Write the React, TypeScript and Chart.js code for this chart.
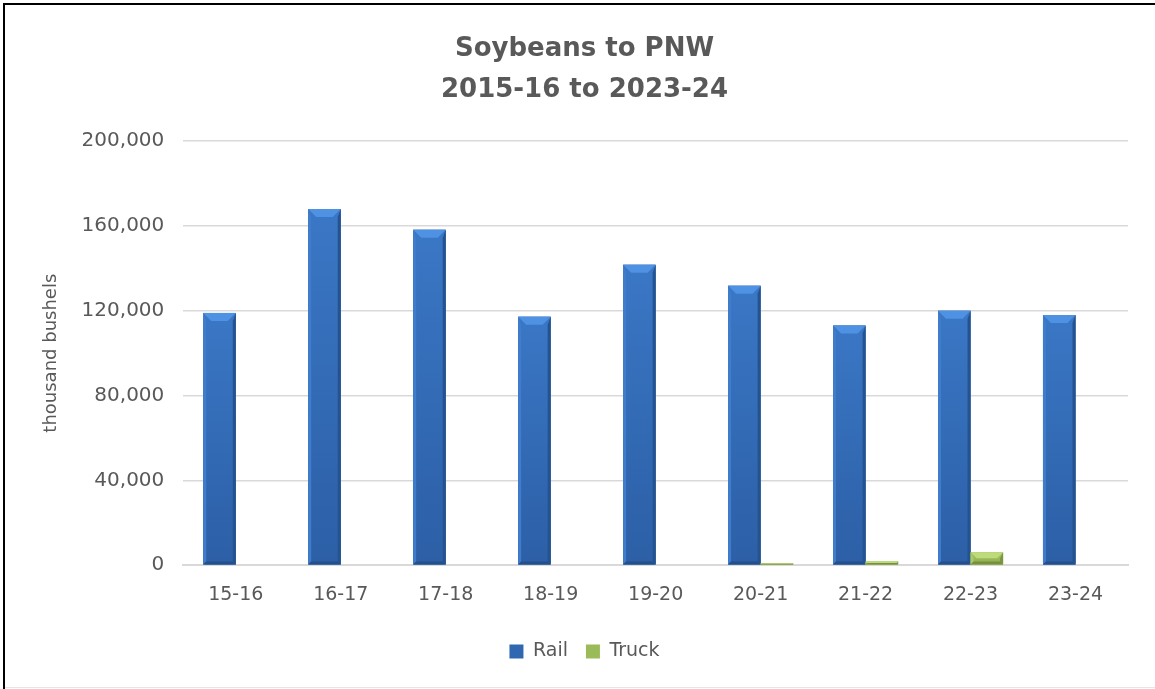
import React, { useEffect, useRef } from "react";
import { Chart, registerables } from "chart.js";

Chart.register(...registerables);

const categories = ["15-16", "16-17", "17-18", "18-19", "19-20", "20-21", "21-22", "22-23", "23-24"];
const railValues = [119000, 168000, 158200, 117200, 141700, 131800, 113000, 120000, 118000];
const truckValues = [0, 0, 0, 0, 0, 900, 1700, 6100, 0];
const titleLines = ["Soybeans to PNW", "2015-16 to 2023-24"];
const yAxisTitle = "thousand bushels";

const FONT = "'DejaVu Sans', sans-serif";
const TEXT = "#595959";

const palettes: Record<number, { bodyTop: string; bodyBottom: string; top: string; left: string; right: string; bottom: string }> = {
  0: { bodyTop: "#3a77c5", bodyBottom: "#2c5fa6", top: "#4f91e2", left: "#3f7dcc", right: "#25538f", bottom: "#23508c" },
  1: { bodyTop: "#a6c763", bodyBottom: "#8eab4f", top: "#bedb7c", left: "#abc96b", right: "#7a9640", bottom: "#76913e" },
};

const bevelPlugin = {
  id: "bevel",
  afterDatasetsDraw(chart: any) {
    const ctx = chart.ctx;
    chart.data.datasets.forEach((_: any, di: number) => {
      const meta = chart.getDatasetMeta(di);
      const pal = palettes[di];
      meta.data.forEach((bar: any) => {
        const { x, y, base, width } = bar.getProps(["x", "y", "base", "width"], true);
        const h = base - y;
        if (h < 0.5) return;
        const l = x - width / 2;
        const r = x + width / 2;
        const t = y;
        const b = base;
        const bv = Math.min(8, h / 2, width / 3);
        const sv = Math.min(3, h / 2);
        ctx.save();
        const g = ctx.createLinearGradient(0, t, 0, b);
        g.addColorStop(0, pal.bodyTop);
        g.addColorStop(1, pal.bodyBottom);
        ctx.fillStyle = g;
        ctx.fillRect(l, t, width, h);
        ctx.fillStyle = pal.left;
        ctx.beginPath();
        ctx.moveTo(l, t); ctx.lineTo(l + sv, t + bv); ctx.lineTo(l + sv, b - sv); ctx.lineTo(l, b); ctx.closePath();
        ctx.fill();
        ctx.fillStyle = pal.right;
        ctx.beginPath();
        ctx.moveTo(r, t); ctx.lineTo(r - sv, t + bv); ctx.lineTo(r - sv, b - sv); ctx.lineTo(r, b); ctx.closePath();
        ctx.fill();
        ctx.fillStyle = pal.bottom;
        ctx.beginPath();
        ctx.moveTo(l, b); ctx.lineTo(l + sv, b - sv); ctx.lineTo(r - sv, b - sv); ctx.lineTo(r, b); ctx.closePath();
        ctx.fill();
        ctx.fillStyle = pal.top;
        ctx.beginPath();
        ctx.moveTo(l, t); ctx.lineTo(r, t); ctx.lineTo(r - bv, t + bv); ctx.lineTo(l + bv, t + bv); ctx.closePath();
        ctx.fill();
        ctx.restore();
      });
    });
  },
};

const framePlugin = {
  id: "frame",
  beforeDraw(chart: any) {
    const ctx = chart.ctx;
    const w = chart.width;
    const h = chart.height;
    ctx.save();
    ctx.fillStyle = "#ffffff";
    ctx.fillRect(0, 0, w, h);
    ctx.fillStyle = "#000000";
    ctx.fillRect(3, 3, w - 3, 2);
    ctx.fillRect(3, 3, 2, h - 3);
    ctx.fillStyle = "#e6e6e6";
    ctx.fillRect(5, h - 2, w - 5, 1);
    ctx.restore();
  },
};

export default function App() {
  const ref = useRef<HTMLCanvasElement | null>(null);

  useEffect(() => {
    document.body.style.margin = "0";
    if (!ref.current) return;
    const chart = new Chart(ref.current, {
      type: "bar",
      data: {
        labels: categories,
        datasets: [
          { label: "Rail", data: railValues, backgroundColor: "#2f67b0", borderWidth: 0 },
          { label: "Truck", data: truckValues, backgroundColor: "#9bbb59", borderWidth: 0 },
        ],
      },
      options: {
        animation: false,
        responsive: true,
        maintainAspectRatio: false,
        layout: { padding: { left: 41, right: 27, top: 0, bottom: 18 } },
        datasets: { bar: { categoryPercentage: 0.62, barPercentage: 1 } },
        plugins: {
          title: {
            display: true,
            text: titleLines,
            color: TEXT,
            font: { family: FONT, size: 26, weight: "bold", lineHeight: 1.58 },
            padding: { top: 29, bottom: 30 },
          },
          legend: {
            position: "bottom",
            labels: {
              color: TEXT,
              font: { family: FONT, size: 19 },
              boxWidth: 14,
              boxHeight: 14,
              padding: 18,
            },
          },
          tooltip: { enabled: false },
        },
        scales: {
          x: {
            grid: { display: false, drawTicks: false },
            border: { display: true, color: "#d9d9d9", width: 2 },
            ticks: { color: TEXT, font: { family: FONT, size: 19 }, padding: 18 },
          },
          y: {
            min: 0,
            max: 200000,
            ticks: {
              stepSize: 40000,
              color: TEXT,
              font: { family: FONT, size: 20 },
              padding: 19,
              callback: (v: any) => Number(v).toLocaleString("en-US"),
            },
            grid: { color: "#d9d9d9", lineWidth: 1.5, drawTicks: false },
            border: { display: false },
            title: {
              display: true,
              text: yAxisTitle,
              color: TEXT,
              font: { family: FONT, size: 18 },
              padding: { top: 0, bottom: 0 },
            },
          },
        },
      },
      plugins: [framePlugin, bevelPlugin],
    });
    return () => chart.destroy();
  }, []);

  return (
    <div style={{ width: 1155, height: 689, position: "relative" }}>
      <canvas ref={ref} />
    </div>
  );
}
